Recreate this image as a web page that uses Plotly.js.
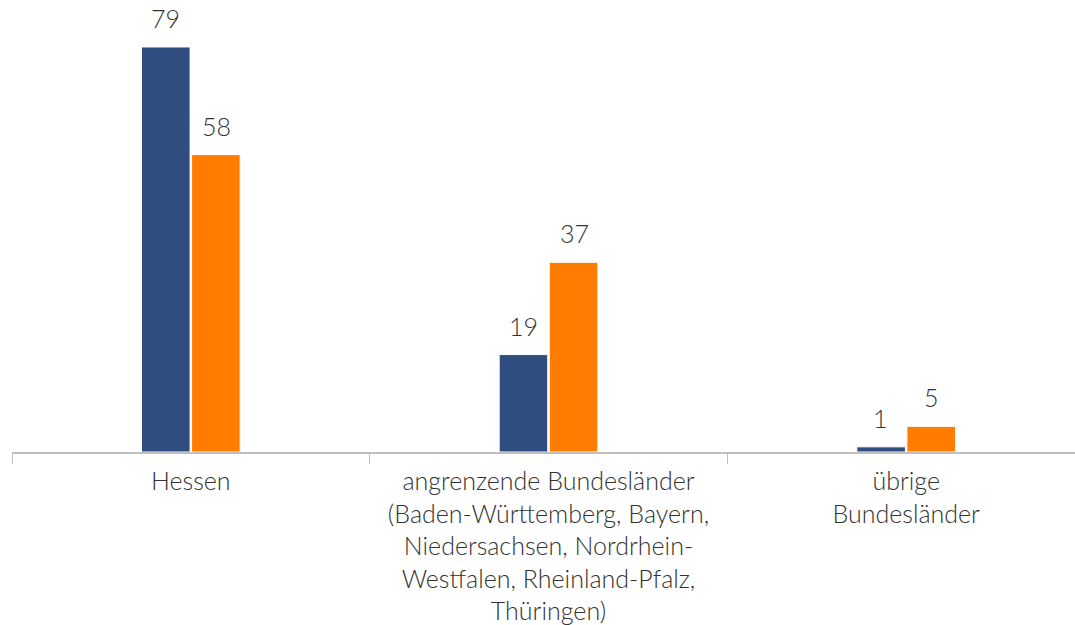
<!DOCTYPE html>
<html><head><meta charset="utf-8">
<script src="https://cdn.plot.ly/plotly-3.0.1.min.js"></script>
<style>html,body{margin:0;padding:0;background:#fff;overflow:hidden}#chart{width:1085px;height:625px}</style>
</head><body><div id="chart"></div>
<script>
const categories = ["Hessen",
  "angrenzende Bundesländer<br>(Baden-Württemberg, Bayern,<br>Niedersachsen, Nordrhein-<br>Westfalen, Rheinland-Pfalz,<br>Thüringen)",
  "übrige<br>Bundesländer"];
const seriesA = [79, 19, 1];
const seriesB = [58, 37, 5];
const font = "'Lato Light', Lato, 'Open Sans', sans-serif";
const labelFont = {family: font, size: 25, color: "#333333", weight: 300};
const mk = (y, color) => ({
  type: "bar", x: categories, y: y, marker: {color: color, line: {color: "#ffffff", width: 1}},
  hoverinfo: "skip"
});
const annotations = [];
[seriesA, seriesB].forEach((s, si) => s.forEach((v, i) => annotations.push({
  xref: "x", yref: "y", x: categories[i], y: v, text: String(v), showarrow: false,
  xanchor: "center", yanchor: "bottom", xshift: si === 0 ? -25.5 : 25.5, yshift: 12,
  font: labelFont
})));
Plotly.newPlot("chart", [mk(seriesA, "#2F4D7E"), mk(seriesB, "#FF7C00")], {
  width: 1085, height: 625, barmode: "group", bargap: 0.72, bargroupgap: 0.03,
  showlegend: false, paper_bgcolor: "#fff", plot_bgcolor: "#fff",
  margin: {l: 12, r: 0, t: 0, b: 173},
  annotations: annotations,
  xaxis: {showline: true, linecolor: "#bfbfbf", linewidth: 2, ticks: "outside", tickson: "boundaries",
    ticklen: 10, tickcolor: "#bfbfbf", tickwidth: 1, ticklabelstandoff: 6,
    tickfont: labelFont},
  yaxis: {range: [0, 88.16], visible: false, showgrid: false, zeroline: false},
  font: {family: font}
}, {displayModeBar: false, staticPlot: true});
</script></body></html>
